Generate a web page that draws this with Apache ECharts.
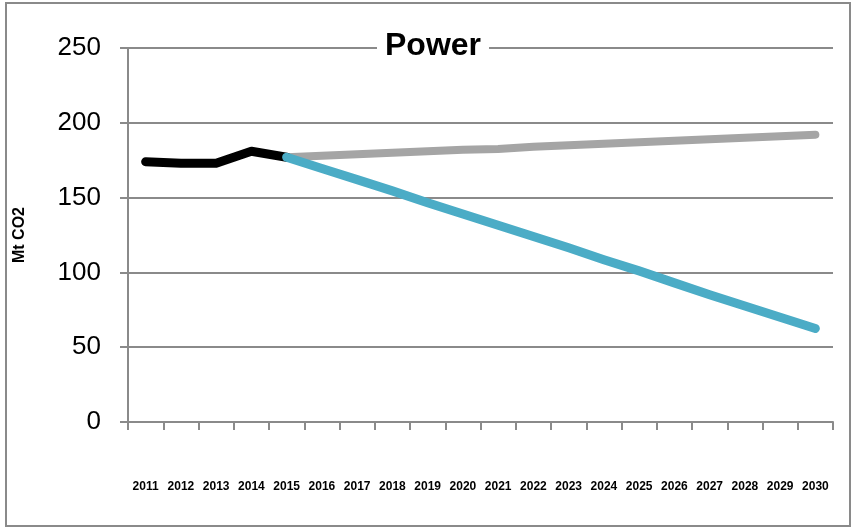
<!DOCTYPE html>
<html>
<head>
<meta charset="utf-8">
<script src="https://cdn.jsdelivr.net/npm/echarts@6/dist/echarts.min.js"></script>
<style>
  html, body { margin: 0; padding: 0; background: #fff; }
  #chart { width: 856px; height: 529px; }
</style>
</head>
<body>
<div id="chart"></div>
<script>
// Years on the category axis
const years = ['2011','2012','2013','2014','2015','2016','2017','2018','2019','2020',
               '2021','2022','2023','2024','2025','2026','2027','2028','2029','2030'];

// Historical emissions (first five years)
const historical = [174, 173, 173, 181, 177, null, null, null, null, null,
                    null, null, null, null, null, null, null, null, null, null];

// Reference projection
const baseline = [null, null, null, null, 177, 178, 179, 180, 181, 182,
                  182.5, 184, 185, 186, 187, 188, 189, 190, 191, 192];

// Reduction pathway
const pathway = [null, null, null, null, 177, 169.5, 162, 154.5, 146.5, 139,
                 131.5, 124, 116.5, 108.5, 101, 93, 85, 77.5, 70, 62.5];

const yTicks = { min: 0, max: 250, step: 50 };

const gridGray = '#8a8a8a';

const chart = echarts.init(document.getElementById('chart'), null, { renderer: 'canvas' });

function lineSeries(name, data, color, width, z) {
  return {
    name: name,
    type: 'line',
    data: data,
    z: z,
    symbol: 'none',
    connectNulls: false,
    lineStyle: { color: color, width: width, cap: 'round', join: 'round' },
    emphasis: { disabled: true }
  };
}

chart.setOption({
  animation: false,
  backgroundColor: '#fff',
  title: {
    text: 'Power',
    left: 377,
    top: 28,
    backgroundColor: '#fff',
    padding: [2, 8],
    textStyle: {
      fontFamily: 'Liberation Sans',
      fontWeight: 'bold',
      fontSize: 32,
      color: '#000'
    }
  },
  graphic: [{
    type: 'rect',
    shape: { x: 6, y: 3, width: 844, height: 523 },
    style: { fill: 'none', stroke: gridGray, lineWidth: 2 },
    silent: true,
    z: -10
  }],
  grid: { left: 128, right: 23, top: 48, bottom: 107 },
  xAxis: {
    type: 'category',
    data: years,
    boundaryGap: true,
    axisLine: { lineStyle: { color: gridGray, width: 2 } },
    axisTick: { show: true, length: 8, alignWithLabel: false, lineStyle: { color: gridGray, width: 2 } },
    axisLabel: {
      margin: 59,
      interval: 0,
      fontFamily: 'Liberation Sans',
      fontWeight: 'bold',
      fontSize: 12,
      color: '#000'
    },
    splitLine: { show: false }
  },
  yAxis: {
    type: 'value',
    min: yTicks.min,
    max: yTicks.max,
    interval: yTicks.step,
    name: 'Mt CO2',
    nameLocation: 'middle',
    nameGap: 100,
    nameTextStyle: {
      fontFamily: 'Liberation Sans',
      fontWeight: 'bold',
      fontSize: 16,
      color: '#000'
    },
    axisLine: { show: true, lineStyle: { color: gridGray, width: 2 } },
    axisTick: { show: true, length: 8, lineStyle: { color: gridGray, width: 2 } },
    axisLabel: {
      margin: 27,
      fontFamily: 'Liberation Sans',
      fontSize: 26,
      color: '#000'
    },
    splitLine: { show: true, lineStyle: { color: gridGray, width: 2 } }
  },
  series: [
    lineSeries('Historical', historical, '#000000', 9, 3),
    lineSeries('Baseline', baseline, '#a5a5a5', 8, 2),
    lineSeries('Pathway', pathway, '#4bacc6', 9, 4)
  ]
});
</script>
</body>
</html>
